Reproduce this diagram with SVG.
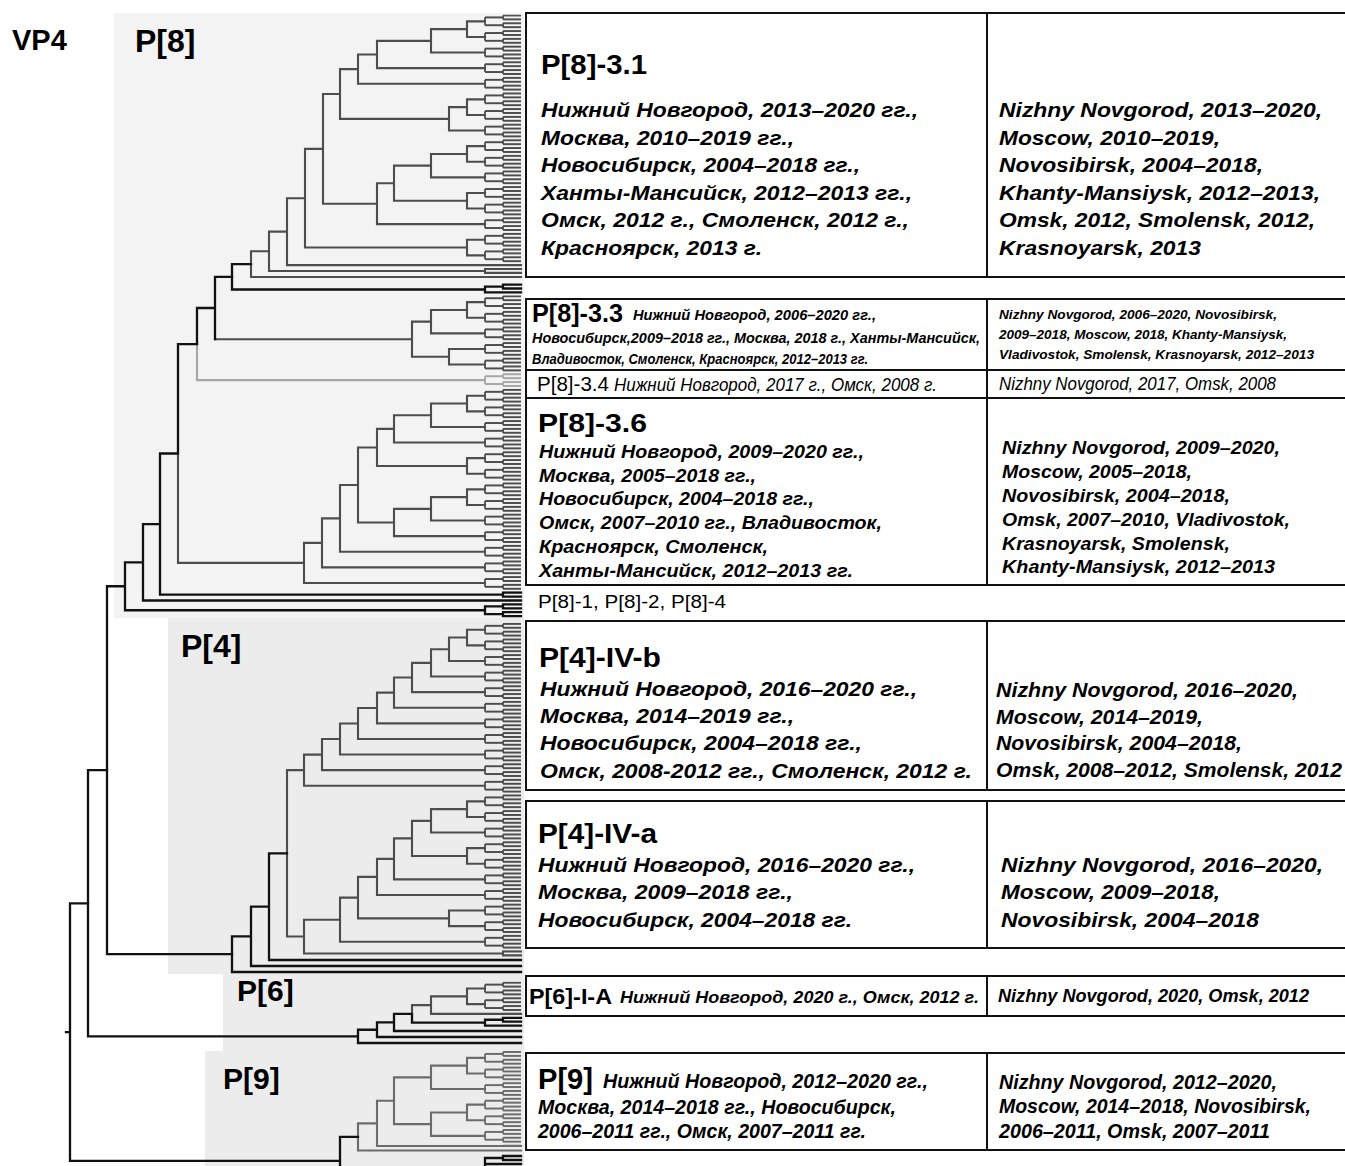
<svg xmlns="http://www.w3.org/2000/svg" width="1345" height="1166" viewBox="0 0 1345 1166">
<style>
.b{stroke:#111;stroke-width:2.3;fill:none;stroke-linecap:square}
.g{stroke:#4d4d4d;stroke-width:2.1;fill:none;stroke-linecap:square}
.l{stroke:#a6a6a6;stroke-width:2.1;fill:none;stroke-linecap:square}
.g9{stroke:#6b6b6b;stroke-width:2.1;fill:none;stroke-linecap:square}
.box{fill:#fff;stroke:#111;stroke-width:2}
.t{font-family:"Liberation Sans",Arial,sans-serif;fill:#000}
.bi{font-weight:700;font-style:italic}
.it{font-style:italic}
.h{font-weight:700}
.lab{font-family:"Liberation Sans",Arial,sans-serif;font-weight:700;fill:#000}
</style>
<defs>
<pattern id="qg" patternUnits="userSpaceOnUse" x="484" y="14.5" width="37" height="15.6">
<path d="M1 2.95V10.75M1 2.95H19M1 10.75H19M19 1V4.9M19 8.8V12.7M19 1H37M19 4.9H37M19 8.8H37M19 12.7H37" stroke="#4d4d4d" stroke-width="1.8" fill="none"/>
</pattern>
<pattern id="ql" patternUnits="userSpaceOnUse" x="484" y="14.5" width="37" height="15.6">
<path d="M1 2.95V10.75M1 2.95H19M1 10.75H19M19 1V4.9M19 8.8V12.7M19 1H37M19 4.9H37M19 8.8H37M19 12.7H37" stroke="#a6a6a6" stroke-width="1.8" fill="none"/>
</pattern>
<pattern id="q9" patternUnits="userSpaceOnUse" x="484" y="1051" width="37" height="15.6">
<path d="M1 2.95V10.75M1 2.95H19M1 10.75H19M19 1V4.9M19 8.8V12.7M19 1H37M19 4.9H37M19 8.8H37M19 12.7H37" stroke="#6b6b6b" stroke-width="1.8" fill="none"/>
</pattern>
</defs>
<rect width="1345" height="1166" fill="#fff"/>
<g id="clade-backgrounds">
<rect x="114" y="13" width="410" height="605" fill="#f3f3f3"/>
<rect x="168" y="618" width="356" height="356" fill="#ececec"/>
<rect x="223" y="974" width="301" height="77" fill="#ececec"/>
<rect x="205" y="1051" width="319" height="115" fill="#ececec"/>
</g>
<g id="labels">
<text class="lab" x="12" y="50" font-size="29">VP4</text>
<text class="lab" x="135" y="52" font-size="32">P[8]</text>
<text class="lab" x="181" y="657" font-size="32">P[4]</text>
<text class="lab" x="237" y="1001" font-size="30">P[6]</text>
<text class="lab" x="223" y="1089" font-size="30">P[9]</text>
</g>
<g id="connectors">
<g id="leaf-fringe">
<rect x="484" y="14.5" width="37" height="249.6" fill="url(#qg)"/>
<rect x="484" y="295.3" width="37" height="78" fill="url(#qg)"/>
<rect x="484" y="373.3" width="37" height="15.6" fill="url(#ql)"/>
<rect x="484" y="388.9" width="37" height="202.8" fill="url(#qg)"/>
<rect x="484" y="622.9" width="37" height="327.6" fill="url(#qg)"/>
<rect x="484" y="981.7" width="37" height="31.2" fill="url(#qg)"/>
<rect x="484" y="1051" width="37" height="93.6" fill="url(#q9)"/>
</g>
<path class="g" d="M485 21.35H467V36.95H485M467 29.15H431V52.55H485M431 40.85H377V68.15H485M377 54.5H358V83.75H485M485 99.35H467V114.95H485M467 107.15H449V130.55H485M358 69.13H340V118.85H449M485 146.15H467V161.75H485M467 153.95H431V177.35H485M485 192.95H467V208.55H485M431 165.65H394V200.75H467M394 183.2H377V224.15H485M340 93.99H323V203.68H377M485 239.75H467V255.35H485M323 148.83H305V247.55H467M305 198.19H287V265.1H521M287 231.65H269V270.95H485M485 269H521M485 272.9H521M485 269V272.9M269 251.3H251V277H521"/>
<path class="b" d="M251 264.15H232V289.5H485M503 284.6H521M503 288.5H521M503 284.6V288.5M485 286.55H503M485 292.4H521M485 286.55V292.4"/>
<path class="g" d="M485 302.15H467V317.75H485M467 309.95H431V333.35H485M485 348.95H449V364.55H485M431 321.65H412V356.75H449M215 339.2H412"/>
<path class="b" d="M232 276.83H215V339.2M215 308.02H197V344.1"/>
<path class="l" d="M197 344.1V380.15H485"/>
<path class="g" d="M485 395.75H467V411.35H485M467 403.55H431V426.95H485M431 415.25H394V442.55H485M485 458.15H467V473.75H485M394 428.9H377V465.95H467M485 489.35H467V504.95H485M467 497.15H431V520.55H485M431 508.85H394V536.15H485M377 447.43H358V522.5H394M358 484.97H340V551.75H485M340 518.36H322V567.35H485M322 542.86H304V582.95H485M178 453.5V562.9H304"/>
<path class="b" d="M197 344.1H178V453.5M178 453.5H160V594.65H503M503 592.7H521M503 596.6H521M503 592.7V596.6M160 524.08H143V600.5H521M143 562.29H125V610.25H485M503 604.4H521M503 608.3H521M503 604.4V608.3M503 612.2H521M503 616.1H521M503 612.2V616.1M485 606.35H503M485 614.15H503M485 606.35V614.15M125 586.27H107V954.18H232"/>
<path class="g" d="M485 629.75H467V645.35H485M467 637.55H449V660.95H485M449 649.25H431V676.55H485M431 662.9H412V692.15H485M412 677.53H394V707.75H485M394 692.64H377V723.35H485M377 708H358V738.95H485M358 723.48H340V754.55H485M340 739.01H322V770.15H485M322 754.58H304V785.75H485M485 801.35H467V816.95H485M467 809.15H431V832.55H485M485 848.15H467V863.75H485M431 820.85H412V855.95H467M412 838.4H394V879.35H485M394 858.88H377V894.95H485M485 910.55H449V926.15H485M377 876.91H358V918.35H449M358 897.63H340V941.75H485M340 919.69H304V953.45H503M503 951.5H521M503 955.4H521M503 951.5V955.4M304 770.17H287V936.57H304"/>
<path class="b" d="M287 853.37H269V960H521M269 906.69H251V966H521M251 936.35H232V972H521"/>
<path class="g" d="M485 988.55H467V1004.15H485M467 996.35H431V1013.9H521M431 1005.13H412V1013.9"/>
<path class="b" d="M412 1013.9V1022.68H485M503 1017.8H521M503 1021.7H521M503 1017.8V1021.7M485 1019.75H503M485 1025.6H521M485 1019.75V1025.6M412 1013.9H394V1031H521M394 1022.45H377V1037H521M377 1029.73H358V1043H521M107 770.21H88V1036.36H358"/>
<path class="g9" d="M485 1057.85H467V1073.45H485M467 1065.65H431V1089.05H485M485 1104.65H467V1120.25H485M467 1112.45H431V1135.85H485M431 1077.35H394V1124.15H431M394 1100.75H377V1146H521M377 1123.38H358V1150.5H521"/>
<path class="b" d="M358 1136.94H340V1185H485M521 1156H503V1160H521M503 1158H485V1185M485 1164H521M88 903.29H70V1160.97H340M66 1032.13H70"/>
</g>
<g id="node-p8-3-1">
<rect class="box" x="526" y="13" width="830" height="264"/>
<line x1="987" y1="13" x2="987" y2="277" stroke="#111" stroke-width="2"/>
<text class="t h" x="541" y="74" font-size="27" textLength="106" lengthAdjust="spacingAndGlyphs">P[8]-3.1</text>
<g class="t bi" font-size="21">
<text x="541" y="117" textLength="377" lengthAdjust="spacingAndGlyphs">Нижний Новгород, 2013–2020 гг.,</text>
<text x="541" y="145" textLength="253" lengthAdjust="spacingAndGlyphs">Москва, 2010–2019 гг.,</text>
<text x="541" y="172" textLength="319" lengthAdjust="spacingAndGlyphs">Новосибирск, 2004–2018 гг.,</text>
<text x="541" y="200" textLength="371" lengthAdjust="spacingAndGlyphs">Ханты-Мансийск, 2012–2013 гг.,</text>
<text x="541" y="227" textLength="368" lengthAdjust="spacingAndGlyphs">Омск, 2012 г., Смоленск, 2012 г.,</text>
<text x="541" y="255" textLength="221" lengthAdjust="spacingAndGlyphs">Красноярск, 2013 г.</text>
<text x="999" y="117" textLength="323" lengthAdjust="spacingAndGlyphs">Nizhny Novgorod, 2013–2020,</text>
<text x="999" y="145" textLength="221" lengthAdjust="spacingAndGlyphs">Moscow, 2010–2019,</text>
<text x="999" y="172" textLength="264" lengthAdjust="spacingAndGlyphs">Novosibirsk, 2004–2018,</text>
<text x="999" y="200" textLength="321" lengthAdjust="spacingAndGlyphs">Khanty-Mansiysk, 2012–2013,</text>
<text x="999" y="227" textLength="316" lengthAdjust="spacingAndGlyphs">Omsk, 2012, Smolensk, 2012,</text>
<text x="999" y="255" textLength="202" lengthAdjust="spacingAndGlyphs">Krasnoyarsk, 2013</text>
</g>
</g>
<g id="node-p8-3-3">
<rect class="box" x="526" y="299" width="830" height="71"/>
<line x1="987" y1="299" x2="987" y2="370" stroke="#111" stroke-width="2"/>
<text class="t h" x="532" y="322" font-size="25" textLength="91" lengthAdjust="spacingAndGlyphs">P[8]-3.3</text>
<g class="t bi" font-size="15.5">
<text x="633" y="320" textLength="243" lengthAdjust="spacingAndGlyphs">Нижний Новгород, 2006–2020 гг.,</text>
<text x="532" y="343" textLength="448" lengthAdjust="spacingAndGlyphs">Новосибирск,2009–2018 гг., Москва, 2018 г., Ханты-Мансийск,</text>
<text x="532" y="364" textLength="336" lengthAdjust="spacingAndGlyphs">Владивосток, Смоленск, Красноярск, 2012–2013 гг.</text>
</g>
<g class="t bi" font-size="13.5">
<text x="999" y="319" textLength="278" lengthAdjust="spacingAndGlyphs">Nizhny Novgorod, 2006–2020, Novosibirsk,</text>
<text x="999" y="339" textLength="288" lengthAdjust="spacingAndGlyphs">2009–2018, Moscow, 2018, Khanty-Mansiysk,</text>
<text x="999" y="359" textLength="315" lengthAdjust="spacingAndGlyphs">Vladivostok, Smolensk, Krasnoyarsk, 2012–2013</text>
</g>
</g>
<g id="node-p8-3-4">
<rect class="box" x="526" y="370" width="830" height="28"/>
<line x1="987" y1="370" x2="987" y2="398" stroke="#111" stroke-width="2"/>
<text class="t" x="537" y="391" font-size="20" textLength="72" lengthAdjust="spacingAndGlyphs">P[8]-3.4</text>
<text class="t it" x="614" y="391" font-size="19" textLength="323" lengthAdjust="spacingAndGlyphs">Нижний Новгород, 2017 г., Омск, 2008 г.</text>
<text class="t it" x="999" y="390" font-size="19" textLength="277" lengthAdjust="spacingAndGlyphs">Nizhny Novgorod, 2017,  Omsk, 2008</text>
</g>
<g id="node-p8-3-6">
<rect class="box" x="526" y="398" width="830" height="187"/>
<line x1="987" y1="398" x2="987" y2="585" stroke="#111" stroke-width="2"/>
<text class="t h" x="538" y="432" font-size="26" textLength="109" lengthAdjust="spacingAndGlyphs">P[8]-3.6</text>
<g class="t bi" font-size="19">
<text x="539" y="458" textLength="325" lengthAdjust="spacingAndGlyphs">Нижний Новгород,  2009–2020 гг.,</text>
<text x="539" y="482" textLength="217" lengthAdjust="spacingAndGlyphs">Москва, 2005–2018 гг.,</text>
<text x="539" y="505" textLength="275" lengthAdjust="spacingAndGlyphs">Новосибирск, 2004–2018 гг.,</text>
<text x="539" y="529" textLength="343" lengthAdjust="spacingAndGlyphs">Омск, 2007–2010 гг., Владивосток,</text>
<text x="539" y="553" textLength="229" lengthAdjust="spacingAndGlyphs">Красноярск, Смоленск,</text>
<text x="539" y="577" textLength="314" lengthAdjust="spacingAndGlyphs">Ханты-Мансийск,  2012–2013 гг.</text>
<text x="1002" y="454" textLength="278" lengthAdjust="spacingAndGlyphs">Nizhny  Novgorod,  2009–2020,</text>
<text x="1002" y="478" textLength="190" lengthAdjust="spacingAndGlyphs">Moscow, 2005–2018,</text>
<text x="1002" y="502" textLength="228" lengthAdjust="spacingAndGlyphs">Novosibirsk, 2004–2018,</text>
<text x="1002" y="526" textLength="288" lengthAdjust="spacingAndGlyphs">Omsk, 2007–2010, Vladivostok,</text>
<text x="1002" y="550" textLength="228" lengthAdjust="spacingAndGlyphs">Krasnoyarsk, Smolensk,</text>
<text x="1002" y="573" textLength="273" lengthAdjust="spacingAndGlyphs">Khanty-Mansiysk,  2012–2013</text>
</g>
</g>
<g id="node-p8-other">
<text class="t" x="538" y="608" font-size="18" textLength="188" lengthAdjust="spacingAndGlyphs">P[8]-1, P[8]-2, P[8]-4</text>
</g>
<g id="node-p4-iv-b">
<rect class="box" x="526" y="621" width="830" height="169"/>
<line x1="987" y1="621" x2="987" y2="790" stroke="#111" stroke-width="2"/>
<text class="t h" x="539" y="667" font-size="27" textLength="122" lengthAdjust="spacingAndGlyphs">P[4]-IV-b</text>
<g class="t bi" font-size="21">
<text x="540" y="696" textLength="377" lengthAdjust="spacingAndGlyphs">Нижний Новгород, 2016–2020 гг.,</text>
<text x="540" y="723" textLength="254" lengthAdjust="spacingAndGlyphs">Москва, 2014–2019 гг.,</text>
<text x="540" y="750" textLength="322" lengthAdjust="spacingAndGlyphs">Новосибирск, 2004–2018 гг.,</text>
<text x="540" y="778" textLength="432" lengthAdjust="spacingAndGlyphs">Омск, 2008-2012 гг., Смоленск, 2012 г.</text>
<text x="996" y="697" textLength="302" lengthAdjust="spacingAndGlyphs">Nizhny Novgorod, 2016–2020,</text>
<text x="996" y="724" textLength="207" lengthAdjust="spacingAndGlyphs">Moscow, 2014–2019,</text>
<text x="996" y="750" textLength="246" lengthAdjust="spacingAndGlyphs">Novosibirsk, 2004–2018,</text>
<text x="996" y="777" textLength="346" lengthAdjust="spacingAndGlyphs">Omsk, 2008–2012, Smolensk, 2012</text>
</g>
</g>
<g id="node-p4-iv-a">
<rect class="box" x="526" y="801" width="830" height="147"/>
<line x1="987" y1="801" x2="987" y2="948" stroke="#111" stroke-width="2"/>
<text class="t h" x="538" y="843" font-size="27" textLength="119" lengthAdjust="spacingAndGlyphs">P[4]-IV-a</text>
<g class="t bi" font-size="21">
<text x="538" y="872" textLength="377" lengthAdjust="spacingAndGlyphs">Нижний Новгород, 2016–2020 гг.,</text>
<text x="538" y="899" textLength="255" lengthAdjust="spacingAndGlyphs">Москва, 2009–2018 гг.,</text>
<text x="538" y="927" textLength="314" lengthAdjust="spacingAndGlyphs">Новосибирск, 2004–2018 гг.</text>
<text x="1001" y="872" textLength="322" lengthAdjust="spacingAndGlyphs">Nizhny Novgorod, 2016–2020,</text>
<text x="1001" y="899" textLength="219" lengthAdjust="spacingAndGlyphs">Moscow, 2009–2018,</text>
<text x="1001" y="927" textLength="258" lengthAdjust="spacingAndGlyphs">Novosibirsk, 2004–2018</text>
</g>
</g>
<g id="node-p6-i-a">
<rect class="box" x="526" y="976" width="830" height="40"/>
<line x1="987" y1="976" x2="987" y2="1016" stroke="#111" stroke-width="2"/>
<text class="t h" x="529" y="1004" font-size="22" textLength="83" lengthAdjust="spacingAndGlyphs">P[6]-I-A</text>
<text class="t bi" x="620" y="1003" font-size="17" textLength="359" lengthAdjust="spacingAndGlyphs">Нижний Новгород, 2020 г., Омск, 2012 г.</text>
<text class="t bi" x="998" y="1002" font-size="18" textLength="311" lengthAdjust="spacingAndGlyphs">Nizhny Novgorod, 2020, Omsk, 2012</text>
</g>
<g id="node-p9">
<rect class="box" x="526" y="1053" width="830" height="97"/>
<line x1="987" y1="1053" x2="987" y2="1150" stroke="#111" stroke-width="2"/>
<text class="t h" x="538" y="1089" font-size="30" textLength="55" lengthAdjust="spacingAndGlyphs">P[9]</text>
<g class="t bi" font-size="20">
<text x="603" y="1088" textLength="325" lengthAdjust="spacingAndGlyphs">Нижний Новгород, 2012–2020 гг.,</text>
<text x="538" y="1114" textLength="358" lengthAdjust="spacingAndGlyphs">Москва, 2014–2018 гг., Новосибирск,</text>
<text x="538" y="1138" textLength="328" lengthAdjust="spacingAndGlyphs">2006–2011 гг., Омск, 2007–2011 гг.</text>
<text x="999" y="1089" textLength="278" lengthAdjust="spacingAndGlyphs">Nizhny Novgorod, 2012–2020,</text>
<text x="999" y="1113" textLength="312" lengthAdjust="spacingAndGlyphs">Moscow, 2014–2018, Novosibirsk,</text>
<text x="999" y="1138" textLength="271" lengthAdjust="spacingAndGlyphs">2006–2011, Omsk, 2007–2011</text>
</g>
</g>
</svg>
